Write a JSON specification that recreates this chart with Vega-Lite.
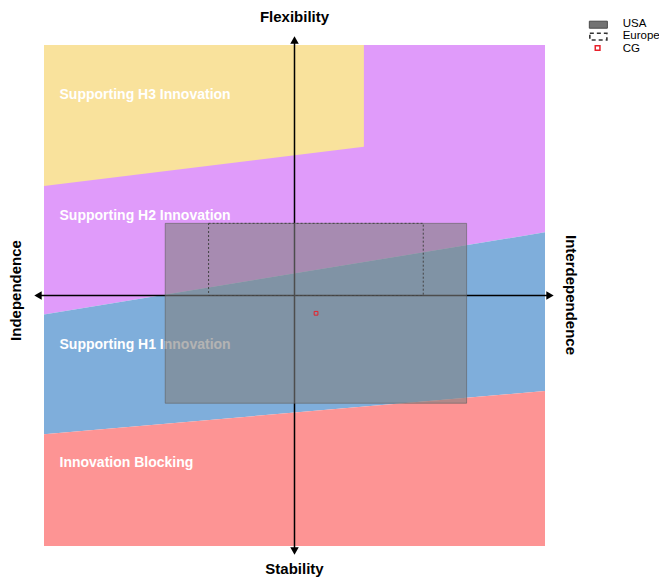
{
  "$schema": "https://vega.github.io/schema/vega-lite/v6.json",
  "width": 501,
  "height": 501,
  "autosize": {"type": "none"},
  "padding": {"left": 44, "top": 45, "right": 114, "bottom": 31},
  "background": "white",
  "config": {"view": {"stroke": null}, "font": "Liberation Sans"},
  "datasets": {
    "regions": [
      {"region": "Supporting H3 Innovation", "x": -10, "y": 10, "y2": 4.37},
      {"region": "Supporting H3 Innovation", "x": 2.77, "y": 10, "y2": 5.94},
      {"region": "Supporting H2 Innovation", "x": -10, "y": 10, "y2": -0.76},
      {"region": "Supporting H2 Innovation", "x": 10, "y": 10, "y2": 2.52},
      {"region": "Supporting H1 Innovation", "x": -10, "y": -0.76, "y2": -5.54},
      {"region": "Supporting H1 Innovation", "x": 10, "y": 2.52, "y2": -3.81},
      {"region": "Innovation Blocking", "x": -10, "y": -5.54, "y2": -10},
      {"region": "Innovation Blocking", "x": 10, "y": -3.81, "y2": -10}
    ],
    "labels": [
      {"label": "Supporting H3 Innovation", "x": -9.38, "y": 7.86},
      {"label": "Supporting H2 Innovation", "x": -9.38, "y": 3.01},
      {"label": "Supporting H1 Innovation", "x": -9.38, "y": -2.14},
      {"label": "Innovation Blocking", "x": -9.38, "y": -6.83}
    ],
    "boxes": [
      {"name": "USA", "x": -5.16, "x2": 6.87, "y": 2.88, "y2": -4.3},
      {"name": "Europe", "x": -3.43, "x2": 5.14, "y": 2.88, "y2": 0}
    ],
    "points": [{"name": "CG", "x": 0.86, "y": -0.71}],
    "axislines": [
      {"axis": "horizontal", "x": -10.24, "y": 0, "x2": 10.2, "y2": 0},
      {"axis": "vertical", "x": 0, "y": -10.2, "x2": 0, "y2": 10.2}
    ],
    "arrows": [
      {"dir": "right", "x": 10.2, "y": 0},
      {"dir": "left", "x": -10.24, "y": 0},
      {"dir": "up", "x": 0, "y": 10.2},
      {"dir": "down", "x": 0, "y": -10.2}
    ],
    "titles": [
      {"title": "Flexibility", "pos": "top", "x": 0, "y": 10.92},
      {"title": "Stability", "pos": "bottom", "x": 0, "y": -11.12},
      {"title": "Independence", "pos": "left", "x": -11.1, "y": 0.2},
      {"title": "Interdependence", "pos": "right", "x": 11.02, "y": 0.02}
    ],
    "legend": [
      {"name": "USA", "x": 11.77, "x2": 12.49, "y": 10.95, "y2": 10.67, "tx": 13.1, "ty": 10.82},
      {"name": "Europe", "x": 11.79, "x2": 12.47, "y": 10.47, "y2": 10.2, "tx": 13.1, "ty": 10.34},
      {"name": "CG", "x": 12.1, "y": 9.88, "tx": 13.1, "ty": 9.86}
    ]
  },
  "encoding": {
    "x": {"field": "x", "type": "quantitative", "scale": {"domain": [-10, 10], "nice": false, "zero": false}, "axis": null},
    "y": {"field": "y", "type": "quantitative", "scale": {"domain": [-10, 10], "nice": false, "zero": false}, "axis": null}
  },
  "layer": [
    {
      "data": {"name": "regions"},
      "transform": [{"filter": "datum.region === 'Supporting H2 Innovation'"}],
      "mark": {"type": "area", "orient": "vertical", "color": "#e09bfa", "opacity": 1},
      "encoding": {"y2": {"field": "y2"}}
    },
    {
      "data": {"name": "regions"},
      "transform": [{"filter": "datum.region === 'Supporting H3 Innovation'"}],
      "mark": {"type": "area", "orient": "vertical", "color": "#f9e29c", "opacity": 1},
      "encoding": {"y2": {"field": "y2"}}
    },
    {
      "data": {"name": "regions"},
      "transform": [{"filter": "datum.region === 'Supporting H1 Innovation'"}],
      "mark": {"type": "area", "orient": "vertical", "color": "#7faedb", "opacity": 1},
      "encoding": {"y2": {"field": "y2"}}
    },
    {
      "data": {"name": "regions"},
      "transform": [{"filter": "datum.region === 'Innovation Blocking'"}],
      "mark": {"type": "area", "orient": "vertical", "color": "#fd9494", "opacity": 1},
      "encoding": {"y2": {"field": "y2"}}
    },
    {
      "data": {"name": "labels"},
      "mark": {"type": "text", "align": "left", "baseline": "alphabetic", "color": "white", "fontSize": 14, "fontWeight": "bold", "font": "Liberation Sans"},
      "encoding": {"text": {"field": "label"}}
    },
    {
      "data": {"name": "axislines"},
      "mark": {"type": "rule", "color": "black", "strokeWidth": 1.5},
      "encoding": {"x2": {"field": "x2"}, "y2": {"field": "y2"}}
    },
    {
      "data": {"name": "arrows"},
      "mark": {"type": "point", "filled": true, "color": "black", "size": 72, "opacity": 1},
      "encoding": {
        "shape": {"field": "dir", "type": "nominal", "scale": {"domain": ["up", "down", "left", "right"], "range": ["triangle-up", "triangle-down", "triangle-left", "triangle-right"]}, "legend": null}
      }
    },
    {
      "data": {"name": "boxes"},
      "transform": [{"filter": "datum.name === 'USA'"}],
      "mark": {"type": "rect", "fill": "#808080", "fillOpacity": 0.6, "stroke": "#606060", "strokeOpacity": 0.6, "strokeWidth": 1},
      "encoding": {"x2": {"field": "x2"}, "y2": {"field": "y2"}}
    },
    {
      "data": {"name": "boxes"},
      "transform": [{"filter": "datum.name === 'Europe'"}],
      "mark": {"type": "rect", "fill": null, "fillOpacity": 0, "stroke": "#444444", "strokeWidth": 1, "strokeDash": [2, 2]},
      "encoding": {"x2": {"field": "x2"}, "y2": {"field": "y2"}}
    },
    {
      "data": {"name": "points"},
      "mark": {"type": "point", "shape": "square", "filled": false, "stroke": "#e8202a", "strokeWidth": 1, "size": 14, "opacity": 1}
    },
    {
      "data": {"name": "titles"},
      "transform": [{"filter": "datum.pos === 'top' || datum.pos === 'bottom'"}],
      "mark": {"type": "text", "align": "center", "baseline": "alphabetic", "color": "black", "fontSize": 15, "fontWeight": "bold"},
      "encoding": {"text": {"field": "title"}}
    },
    {
      "data": {"name": "titles"},
      "transform": [{"filter": "datum.pos === 'left'"}],
      "mark": {"type": "text", "align": "center", "baseline": "middle", "angle": 270, "color": "black", "fontSize": 15, "fontWeight": "bold"},
      "encoding": {"text": {"field": "title"}}
    },
    {
      "data": {"name": "titles"},
      "transform": [{"filter": "datum.pos === 'right'"}],
      "mark": {"type": "text", "align": "center", "baseline": "middle", "angle": 90, "color": "black", "fontSize": 15, "fontWeight": "bold"},
      "encoding": {"text": {"field": "title"}}
    },
    {
      "data": {"name": "legend"},
      "transform": [{"filter": "datum.name === 'USA'"}],
      "mark": {"type": "rect", "fill": "#737373", "stroke": "#4a4a4a", "strokeWidth": 1},
      "encoding": {"x2": {"field": "x2"}, "y2": {"field": "y2"}}
    },
    {
      "data": {"name": "legend"},
      "transform": [{"filter": "datum.name === 'Europe'"}],
      "mark": {"type": "rect", "fill": null, "fillOpacity": 0, "stroke": "#333333", "strokeWidth": 1.6, "strokeDash": [4, 3]},
      "encoding": {"x2": {"field": "x2"}, "y2": {"field": "y2"}}
    },
    {
      "data": {"name": "legend"},
      "transform": [{"filter": "datum.name === 'CG'"}],
      "mark": {"type": "point", "shape": "square", "filled": false, "stroke": "#e8202a", "strokeWidth": 1.5, "size": 22, "opacity": 1}
    },
    {
      "data": {"name": "legend"},
      "mark": {"type": "text", "align": "left", "baseline": "middle", "color": "black", "fontSize": 11.5},
      "encoding": {
        "x": {"field": "tx", "type": "quantitative", "scale": {"domain": [-10, 10], "nice": false, "zero": false}, "axis": null},
        "y": {"field": "ty", "type": "quantitative", "scale": {"domain": [-10, 10], "nice": false, "zero": false}, "axis": null},
        "text": {"field": "name"}
      }
    }
  ]
}
